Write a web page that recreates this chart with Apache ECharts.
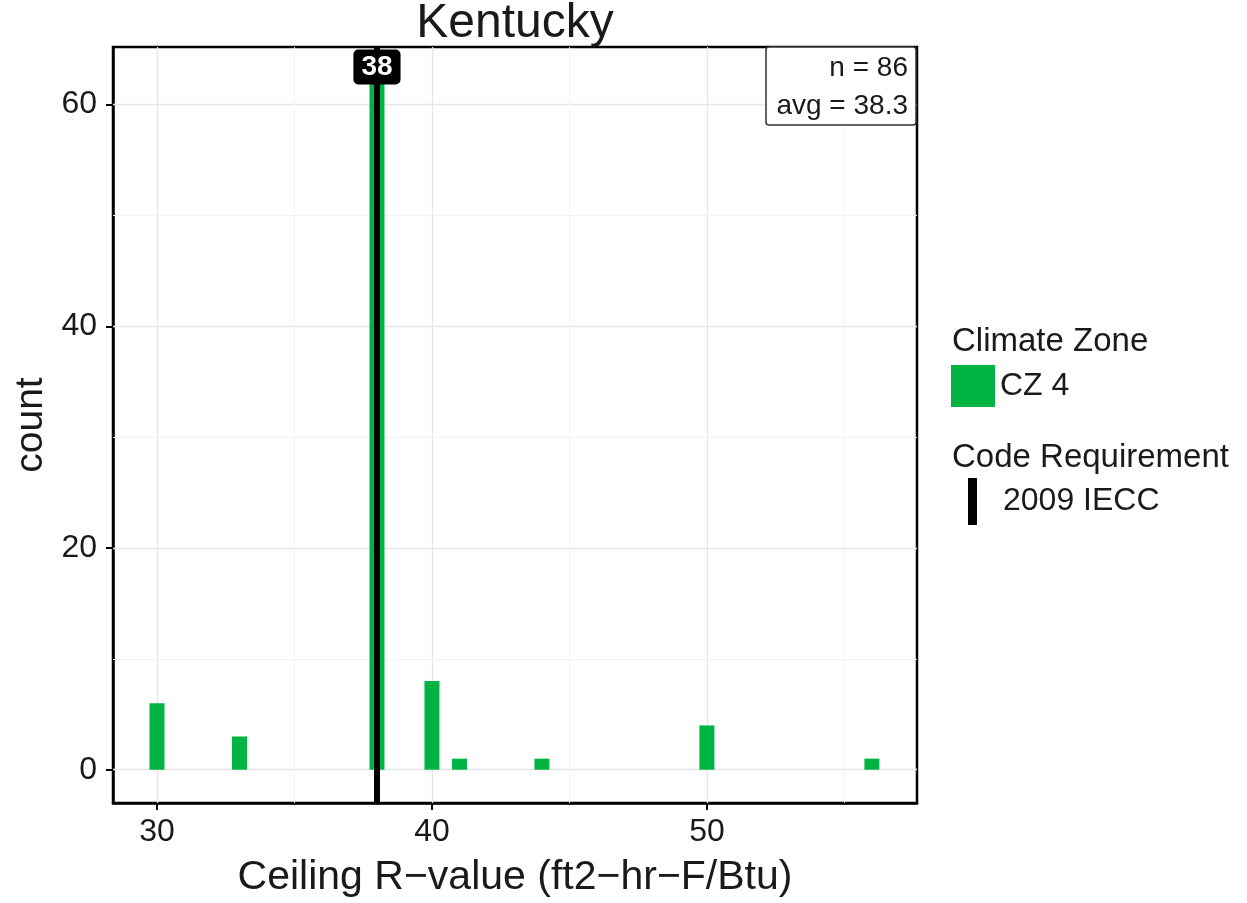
<!DOCTYPE html>
<html>
<head>
<meta charset="utf-8">
<script src="https://cdn.jsdelivr.net/npm/echarts@6/dist/echarts.min.js"></script>
<style>html,body{margin:0;padding:0;background:#fff;}#c{width:1247px;height:903px;}</style>
</head>
<body>
<div id="c"></div>
<script>
// ---- data ----
const rValues = [30, 33, 38, 40, 41, 44, 50, 56];
const counts  = [6, 3, 62, 8, 1, 1, 4, 1];
const codeRequirement = 38;
const xTicks = [30, 40, 50];
const xMinor = [35, 45, 55];
const yTicks = [0, 20, 40, 60];
const yMinor = [10, 30, 50];
const stateName = 'Kentucky';

const n = counts.reduce((a, b) => a + b, 0);
const avg = rValues.reduce((s, v, i) => s + v * counts[i], 0) / n;

const FONT = 'Liberation Sans, Arial, sans-serif';
const TXT = '#1a1a1a';

const chart = echarts.init(document.getElementById('c'), null, {renderer: 'canvas'});

const gridLines = [];
xTicks.forEach(v => gridLines.push({xAxis: v, lineStyle: {color: '#e6e6e6', width: 1.3, type: 'solid'}}));
yTicks.forEach(v => gridLines.push({yAxis: v, lineStyle: {color: '#e6e6e6', width: 1.3, type: 'solid'}}));
xMinor.forEach(v => gridLines.push({xAxis: v, lineStyle: {color: '#f3f3f3', width: 1, type: 'solid'}}));
yMinor.forEach(v => gridLines.push({yAxis: v, lineStyle: {color: '#f3f3f3', width: 1, type: 'solid'}}));

const option = {
  animation: false,
  backgroundColor: '#fff',
  title: {
    text: stateName,
    left: 515,
    textAlign: 'center',
    top: 0,
    padding: 0,
    textStyle: {fontFamily: FONT, fontSize: 48, fontWeight: 'normal', color: TXT}
  },
  grid: {
    left: 113, top: 47, right: 330, bottom: 99,
    show: true, borderColor: '#000', borderWidth: 2.5, backgroundColor: '#fff'
  },
  xAxis: {
    type: 'value',
    min: 28.4, max: 57.64,
    name: 'Ceiling R\u2212value (ft2\u2212hr\u2212F/Btu)',
    nameLocation: 'middle',
    nameGap: 54,
    nameTextStyle: {fontFamily: FONT, fontSize: 41, color: TXT},
    axisLine: {show: true, onZero: false, lineStyle: {color: '#000', width: 2.5}},
    axisTick: {show: true, length: 7, customValues: xTicks, lineStyle: {color: '#000', width: 2}},
    axisLabel: {customValues: xTicks, fontFamily: FONT, fontSize: 32, color: TXT, margin: 13},
    splitLine: {show: false}
  },
  yAxis: {
    type: 'value',
    min: -3, max: 65.2,
    name: 'count',
    nameLocation: 'middle',
    nameRotate: 90,
    nameGap: 61,
    nameTextStyle: {fontFamily: FONT, fontSize: 39, color: TXT},
    axisLine: {show: true, onZero: false, lineStyle: {color: '#000', width: 2.5}},
    axisTick: {show: true, length: 7, customValues: yTicks, lineStyle: {color: '#000', width: 2}},
    axisLabel: {customValues: yTicks, fontFamily: FONT, fontSize: 32, color: TXT, margin: 16},
    splitLine: {show: false}
  },
  legend: [
    {
      left: 951, top: 365, orient: 'vertical', padding: 0,
      itemWidth: 44, itemHeight: 42,
      data: [{name: 'CZ 4', icon: 'rect'}],
      textStyle: {fontFamily: FONT, fontSize: 32, color: TXT},
      selectedMode: false
    },
    {
      left: 968, top: 478, orient: 'vertical', padding: 0,
      itemWidth: 9, itemHeight: 47,
      data: [{name: '2009 IECC', icon: 'rect', itemStyle: {color: '#000', opacity: 1}}],
      textStyle: {fontFamily: FONT, fontSize: 32, color: TXT, padding: [0, 0, 0, 21]},
      selectedMode: false
    }
  ],
  graphic: [
    {type: 'text', left: 952, top: 325, style: {text: 'Climate Zone', font: '33px ' + FONT, fill: TXT}},
    {type: 'text', left: 952, top: 441, style: {text: 'Code Requirement', font: '33px ' + FONT, fill: TXT}},
    {type: 'rect', shape: {x: 766, y: 47, width: 150, height: 78, r: 3},
      style: {fill: '#fff', stroke: '#333', lineWidth: 1.5}, z: 100},
    {type: 'text', x: 908, y: 68, z: 101,
      style: {text: 'n = ' + n, font: '28px ' + FONT, fill: TXT, textAlign: 'right', textVerticalAlign: 'middle'}},
    {type: 'text', x: 908, y: 106, z: 101,
      style: {text: 'avg = ' + avg.toFixed(1), font: '28px ' + FONT, fill: TXT, textAlign: 'right', textVerticalAlign: 'middle'}}
  ],
  series: [
    {
      name: 'grid', type: 'line', data: [], silent: true, z: 1,
      markLine: {silent: true, symbol: 'none', z: 1, label: {show: false}, data: gridLines}
    },
    {
      name: 'CZ 4', type: 'bar', z: 2,
      barWidth: 15,
      itemStyle: {color: '#00b443'},
      data: rValues.map((v, i) => [v, counts[i]])
    },
    {
      name: '2009 IECC', type: 'scatter', z: 5,
      itemStyle: {color: '#000', opacity: 1},
      symbolSize: 1,
      data: [[codeRequirement, 63.4]],
      label: {
        show: true, position: 'inside', formatter: String(codeRequirement),
        backgroundColor: '#000', color: '#fff', fontFamily: FONT, fontWeight: 'bold',
        fontSize: 28, padding: [4, 8, 3, 8], borderRadius: 5, opacity: 1
      },
      markLine: {
        silent: true, symbol: 'none', z: 4, label: {show: false},
        lineStyle: {color: '#000', width: 6, type: 'solid', opacity: 1},
        data: [{xAxis: codeRequirement}]
      }
    }
  ]
};
chart.setOption(option);
</script>
</body>
</html>
